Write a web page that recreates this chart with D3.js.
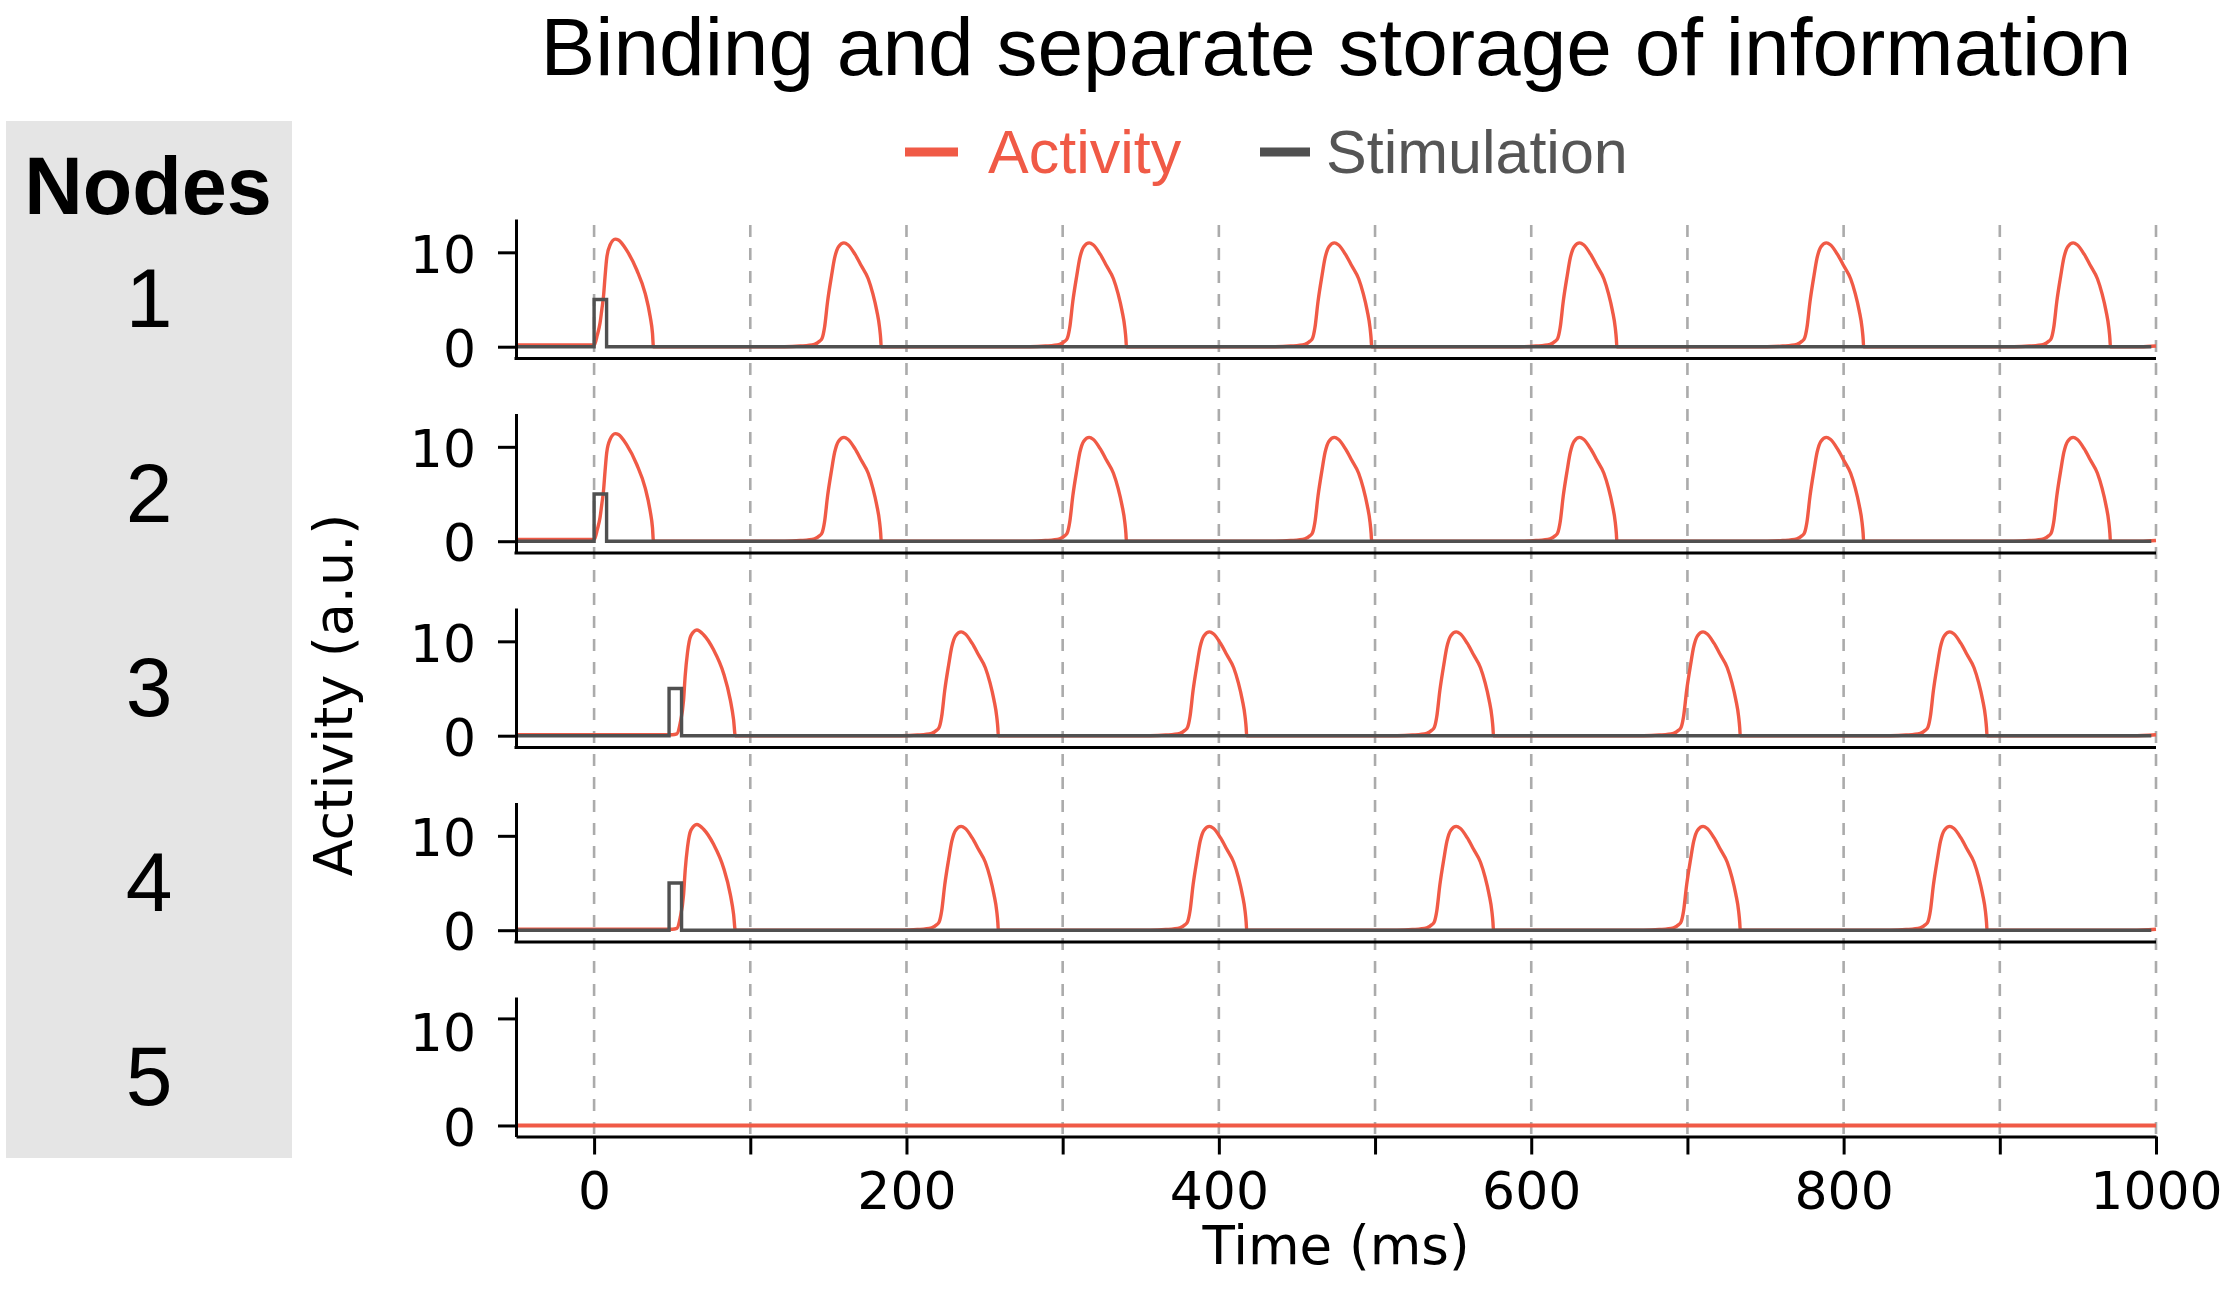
<!DOCTYPE html>
<html>
<head>
<meta charset="utf-8">
<script src="https://cdn.jsdelivr.net/npm/d3@7"></script>
<style>
  html, body { margin: 0; padding: 0; background: #ffffff; }
  svg { display: block; }
</style>
</head>
<body>
<svg id="chart" width="2228" height="1313"></svg>
<script>
// ---------------- DATA ----------------
const titleText = "Binding and separate storage of information";
const nodeLabels = ["1", "2", "3", "4", "5"];
const seriesNames = ["Activity", "Stimulation"];
const xTickValues = [0, 100, 200, 300, 400, 500, 600, 700, 800, 900, 1000];
const xTickLabels = ["0", "", "200", "", "400", "", "600", "", "800", "", "1000"];
const yTickValues = [0, 10];
const gridTimes = [0, 100, 200, 300, 400, 500, 600, 700, 800, 900, 1000];

// Activity of nodes 1 and 2 (time ms, activity a.u.)
const activityNodes12 = [
  [-50, 0.18], [0, 0.18], [0.6, 0.35], [2, 1.2], [3.8, 2.5], [5, 4.0], [6, 5.3], [7, 7.4], [8.1, 9.4],
  [10.3, 10.8], [13.5, 11.4], [15.6, 11.3], [20.9, 10.2], [27.4, 8.1], [32.7, 5.65], [35.9, 3.2], [37.4, 1.4], [38, 0],
  [122, 0], [132, 0.07], [141, 0.25], [144.5, 0.6], [146, 0.9], [147.5, 2.0], [149.5, 4.8], [152, 7.5], [154, 9.4],
  [156.5, 10.6], [160, 11.0], [162.5, 10.8], [167, 9.8], [171, 8.6], [175.5, 7.2], [178.5, 5.6], [181, 3.8], [182.8, 2.0], [183.5, 0.8], [183.8, 0],
  [279, 0], [289, 0.07], [298, 0.25], [301.5, 0.6], [303, 0.9], [304.5, 2.0], [306.5, 4.8], [309, 7.5], [311, 9.4],
  [313.5, 10.6], [317, 11.0], [319.5, 10.8], [324, 9.8], [328, 8.6], [332.5, 7.2], [335.5, 5.6], [338, 3.8], [339.8, 2.0], [340.5, 0.8], [340.8, 0],
  [436, 0], [446, 0.07], [455, 0.25], [458.5, 0.6], [460, 0.9], [461.5, 2.0], [463.5, 4.8], [466, 7.5], [468, 9.4],
  [470.5, 10.6], [474, 11.0], [476.5, 10.8], [481, 9.8], [485, 8.6], [489.5, 7.2], [492.5, 5.6], [495, 3.8], [496.8, 2.0], [497.5, 0.8], [497.8, 0],
  [593, 0], [603, 0.07], [612, 0.25], [615.5, 0.6], [617, 0.9], [618.5, 2.0], [620.5, 4.8], [623, 7.5], [625, 9.4],
  [627.5, 10.6], [631, 11.0], [633.5, 10.8], [638, 9.8], [642, 8.6], [646.5, 7.2], [649.5, 5.6], [652, 3.8], [653.8, 2.0], [654.5, 0.8], [654.8, 0],
  [751, 0], [761, 0.07], [770, 0.25], [773.5, 0.6], [775, 0.9], [776.5, 2.0], [778.5, 4.8], [781, 7.5], [783, 9.4],
  [785.5, 10.6], [789, 11.0], [791.5, 10.8], [796, 9.8], [800, 8.6], [804.5, 7.2], [807.5, 5.6], [810, 3.8], [811.8, 2.0], [812.5, 0.8], [812.8, 0],
  [909, 0], [919, 0.07], [928, 0.25], [931.5, 0.6], [933, 0.9], [934.5, 2.0], [936.5, 4.8], [939, 7.5], [941, 9.4],
  [943.5, 10.6], [947, 11.0], [949.5, 10.8], [954, 9.8], [958, 8.6], [962.5, 7.2], [965.5, 5.6], [968, 3.8], [969.8, 2.0], [970.5, 0.8], [970.8, 0],
  [990, 0], [1000, 0.08]
];

// Activity of nodes 3 and 4
const activityNodes34 = [
  [-50, 0.1], [50, 0.1], [53, 0.2], [55.1, 1.3], [57.3, 3.8], [58.3, 6.3], [59.8, 8.8], [62, 10.6],
  [65.8, 11.2], [70.1, 10.7], [76.5, 9.1], [82.9, 6.6], [87.2, 3.8], [89.3, 1.7], [90.4, 0],
  [197, 0], [207, 0.07], [216, 0.25], [219.5, 0.6], [221, 0.9], [222.5, 2.0], [224.5, 4.8], [227, 7.5], [229, 9.4],
  [231.5, 10.6], [235, 11.0], [237.5, 10.8], [242, 9.8], [246, 8.6], [250.5, 7.2], [253.5, 5.6], [256, 3.8], [257.8, 2.0], [258.5, 0.8], [258.8, 0],
  [356, 0], [366, 0.07], [375, 0.25], [378.5, 0.6], [380, 0.9], [381.5, 2.0], [383.5, 4.8], [386, 7.5], [388, 9.4],
  [390.5, 10.6], [394, 11.0], [396.5, 10.8], [401, 9.8], [405, 8.6], [409.5, 7.2], [412.5, 5.6], [415, 3.8], [416.8, 2.0], [417.5, 0.8], [417.8, 0],
  [514, 0], [524, 0.07], [533, 0.25], [536.5, 0.6], [538, 0.9], [539.5, 2.0], [541.5, 4.8], [544, 7.5], [546, 9.4],
  [548.5, 10.6], [552, 11.0], [554.5, 10.8], [559, 9.8], [563, 8.6], [567.5, 7.2], [570.5, 5.6], [573, 3.8], [574.8, 2.0], [575.5, 0.8], [575.8, 0],
  [672, 0], [682, 0.07], [691, 0.25], [694.5, 0.6], [696, 0.9], [697.5, 2.0], [699.5, 4.8], [702, 7.5], [704, 9.4],
  [706.5, 10.6], [710, 11.0], [712.5, 10.8], [717, 9.8], [721, 8.6], [725.5, 7.2], [728.5, 5.6], [731, 3.8], [732.8, 2.0], [733.5, 0.8], [733.8, 0],
  [830, 0], [840, 0.07], [849, 0.25], [852.5, 0.6], [854, 0.9], [855.5, 2.0], [857.5, 4.8], [860, 7.5], [862, 9.4],
  [864.5, 10.6], [868, 11.0], [870.5, 10.8], [875, 9.8], [879, 8.6], [883.5, 7.2], [886.5, 5.6], [889, 3.8], [890.8, 2.0], [891.5, 0.8], [891.8, 0],
  [985, 0], [1000, 0.1]
];

// Activity of node 5 (silent)
const activityNode5 = [[-50, 0], [1000, 0]];

// Stimulation pulses
const stimNodes12 = [[-50, 0], [0, 0], [0, 5], [8, 5], [8, 0], [997, 0]];
const stimNodes34 = [[-50, 0], [48, 0], [48, 5], [56, 5], [56, 0], [997, 0]];
const stimNode5 = null;

const nodeActivity = [activityNodes12, activityNodes12, activityNodes34, activityNodes34, activityNode5];
const nodeStim = [stimNodes12, stimNodes12, stimNodes34, stimNodes34, stimNode5];

// y-limits per panel (as in the reference axes)
const yDomainsPanels = [[-1.25, 13.53], [-1.25, 13.53], [-1.25, 13.53], [-1.25, 13.53], [-1.03, 12.0]];

// ---------------- LAYOUT / STYLE ----------------
const RED = "#F05A46";
const GRAY = "#505050";
const svg = d3.select("#chart");

const plotLeft = 516, plotRight = 2156;
const panelTop0 = 219, panelH = 139.5, panelStep = 194.5;

const x = d3.scaleLinear().domain([-50, 1000]).range([plotLeft, plotRight]);

// Gray node column
svg.append("rect")
  .attr("x", 6).attr("y", 121).attr("width", 286).attr("height", 1037)
  .attr("fill", "#e5e5e5");

svg.append("text")
  .attr("x", 148).attr("y", 214)
  .attr("text-anchor", "middle")
  .attr("font-family", "Liberation Sans, Arial, sans-serif")
  .attr("font-weight", "bold")
  .attr("font-size", 81)
  .attr("fill", "#000")
  .text("Nodes");

nodeLabels.forEach((lab, i) => {
  svg.append("text")
    .attr("x", 149).attr("y", 327 + i * panelStep)
    .attr("text-anchor", "middle")
    .attr("font-family", "Liberation Sans, Arial, sans-serif")
    .attr("font-size", 84)
    .attr("fill", "#000")
    .text(lab);
});

// Title
svg.append("text")
  .attr("x", 1336).attr("y", 75)
  .attr("text-anchor", "middle")
  .attr("font-family", "Liberation Sans, Arial, sans-serif")
  .attr("font-size", 82)
  .attr("fill", "#000")
  .text(titleText);

// Legend
const legendItems = [
  { name: seriesNames[0], color: RED, x0: 905, x1: 958, tx: 988, tcolor: RED },
  { name: seriesNames[1], color: GRAY, x0: 1260, x1: 1310, tx: 1326, tcolor: "#555555" }
];
legendItems.forEach(it => {
  svg.append("line")
    .attr("x1", it.x0).attr("x2", it.x1).attr("y1", 152).attr("y2", 152)
    .attr("stroke", it.color).attr("stroke-width", 9);
  svg.append("text")
    .attr("x", it.tx).attr("y", 173)
    .attr("font-family", "Liberation Sans, Arial, sans-serif")
    .attr("font-size", 61)
    .attr("fill", it.tcolor)
    .text(it.name);
});

// Dashed vertical grid lines across all panels
const gridTop = panelTop0;
const gridBottom = panelTop0 + 4 * panelStep + panelH;
svg.append("g").selectAll("line").data(gridTimes).join("line")
  .attr("x1", d => x(d)).attr("x2", d => x(d))
  .attr("y1", gridTop + 6).attr("y2", gridBottom)
  .attr("stroke", "#ababab").attr("stroke-width", 2.6)
  .attr("stroke-dasharray", "12,11");

// Panels
nodeLabels.forEach((lab, i) => {
  const top = panelTop0 + i * panelStep;
  const bottom = top + panelH;
  const y = d3.scaleLinear().domain(yDomainsPanels[i]).range([bottom, top]);
  const g = svg.append("g");

  const smoothLine = d3.line().x(d => x(d[0])).y(d => y(d[1])).curve(d3.curveMonotoneX);
  const stepLine = d3.line().x(d => x(d[0])).y(d => y(d[1]));

  // activity
  g.append("path")
    .datum(nodeActivity[i])
    .attr("d", smoothLine)
    .attr("fill", "none")
    .attr("stroke", RED)
    .attr("stroke-width", i === 4 ? 4 : 3.4)
    .attr("stroke-linejoin", "round");

  // stimulation
  if (nodeStim[i]) {
    g.append("path")
      .datum(nodeStim[i])
      .attr("d", stepLine)
      .attr("fill", "none")
      .attr("stroke", GRAY)
      .attr("stroke-width", 3.4)
      .attr("stroke-linejoin", "miter");
  }

  // y axis
  const yAxis = d3.axisLeft(y).tickValues(yTickValues).tickSize(18).tickSizeOuter(0).tickPadding(22)
    .tickFormat(d3.format("d"));
  const ga = svg.append("g").attr("transform", `translate(${plotLeft},0)`).call(yAxis);
  ga.select(".domain").attr("stroke", "#000").attr("stroke-width", 3);
  ga.selectAll(".tick line").attr("stroke", "#000").attr("stroke-width", 3);
  ga.selectAll(".tick text")
    .attr("font-family", "DejaVu Sans, sans-serif")
    .attr("font-size", 52)
    .attr("fill", "#000")
    .attr("dy", (d) => (i === 4 && d === 10) ? "0.62em" : "0.38em");

  if (i < 4) {
    svg.append("line")
      .attr("x1", plotLeft - 1.5).attr("x2", plotRight)
      .attr("y1", bottom).attr("y2", bottom)
      .attr("stroke", "#000").attr("stroke-width", 3);
  } else {
    const xAxis = d3.axisBottom(x).tickValues(xTickValues).tickSize(18).tickSizeOuter(0).tickPadding(18)
      .tickFormat((d, k) => xTickLabels[k]);
    const gx = svg.append("g").attr("transform", `translate(0,${bottom})`).call(xAxis);
    gx.select(".domain").attr("stroke", "#000").attr("stroke-width", 3);
    gx.selectAll(".tick line").attr("stroke", "#000").attr("stroke-width", 3);
    gx.selectAll(".tick text")
      .attr("font-family", "DejaVu Sans, sans-serif")
      .attr("font-size", 52)
      .attr("fill", "#000");
  }
});

// Axis labels
svg.append("text")
  .attr("transform", "translate(352,695) rotate(-90)")
  .attr("text-anchor", "middle")
  .attr("font-family", "DejaVu Sans, sans-serif")
  .attr("font-size", 54)
  .attr("fill", "#000")
  .text("Activity (a.u.)");

svg.append("text")
  .attr("x", 1336).attr("y", 1264)
  .attr("text-anchor", "middle")
  .attr("font-family", "DejaVu Sans, sans-serif")
  .attr("font-size", 53)
  .attr("fill", "#000")
  .text("Time (ms)");
</script>
</body>
</html>
